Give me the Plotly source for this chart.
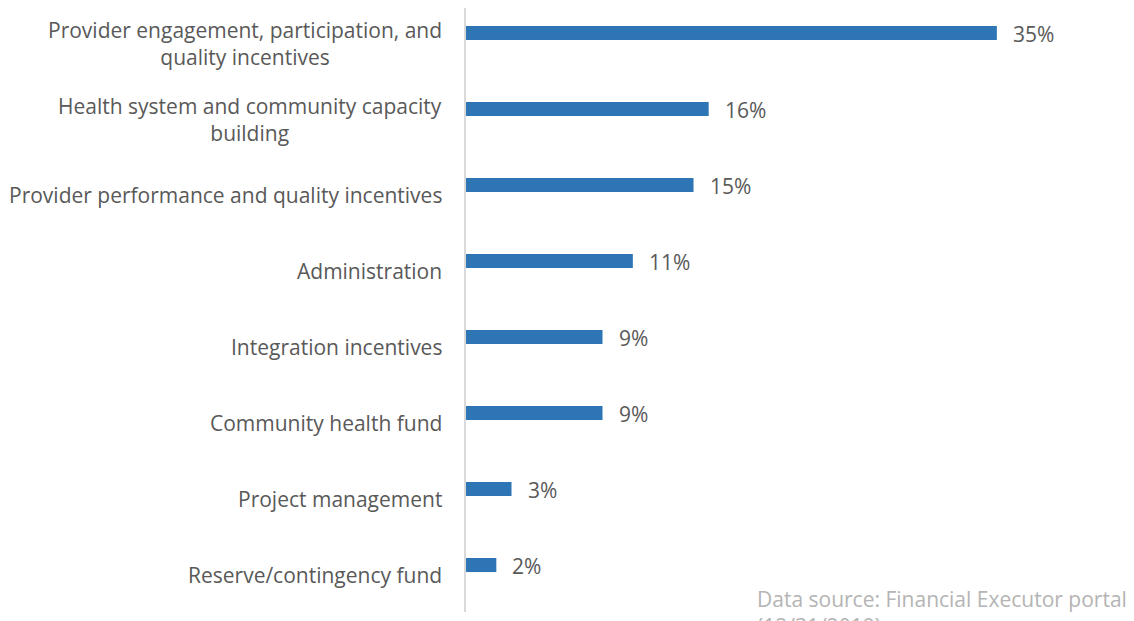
import plotly.graph_objects as go

categories = [
    "Provider engagement, participation, and<br>quality incentives",
    "Health system and community capacity<br>building",
    "Provider performance and quality incentives",
    "Administration",
    "Integration incentives",
    "Community health fund",
    "Project management",
    "Reserve/contingency fund",
]
values = [35, 16, 15, 11, 9, 9, 3, 2]
value_labels = ["35%", "16%", "15%", "11%", "9%", "9%", "3%", "2%"]

FONT = "Open Sans"
TXT = "#595959"

fig = go.Figure()
fig.add_trace(go.Bar(
    x=values, y=categories, orientation="h",
    marker=dict(color="#2e75b6", line=dict(width=0)),
    width=0.185, hoverinfo="skip",
))

# etikete kategorij (centrirane, kot v Excelu)
for c in categories:
    fig.add_annotation(x=0, xref="paper", y=c, yref="y", text=c,
                       xanchor="right", xshift=-22, yshift=-10, align="center",
                       showarrow=False, font=dict(family=FONT, size=21, color=TXT))

# vrednosti
for c, v, t in zip(categories, values, value_labels):
    fig.add_annotation(x=v, y=c, text=t, xanchor="left", xshift=14, yshift=-1,
                       showarrow=False, font=dict(family=FONT, size=21, color=TXT))

fig.add_annotation(x=1.0457, xref="paper", y=0.048, yref="paper",
                   text="Data source: Financial Executor portal<br>(12/31/2019)",
                   showarrow=False, xanchor="right", yanchor="top", align="left",
                   font=dict(family=FONT, size=21, color="#b4b4b4"))

# stran ima 8px roba, zato je slika manjša
fig.update_layout(
    width=1126, height=613,
    margin=dict(l=458, r=34, t=0, b=9),
    plot_bgcolor="#ffffff", paper_bgcolor="#ffffff",
    showlegend=False,
    xaxis=dict(range=[0, 41.8], visible=False),
    yaxis=dict(range=[7.618, -0.329], showticklabels=False, ticks="",
               showgrid=False, zeroline=False, showline=True,
               linecolor="#d9d9d9", linewidth=2),
)

fig.write_html("out.html")
